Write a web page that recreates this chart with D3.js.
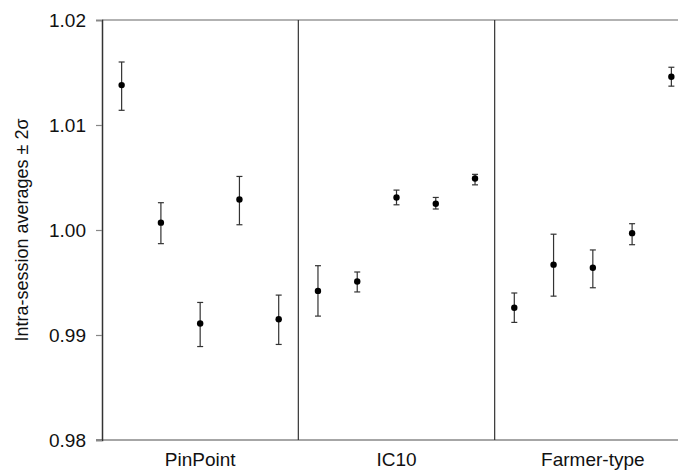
<!DOCTYPE html>
<html><head><meta charset="utf-8">
<script src="https://cdn.jsdelivr.net/npm/d3@7"></script>
<style>body{margin:0;background:#fff;} text{font-family:Arial,"Liberation Sans",sans-serif;}</style>
</head><body><svg id="c" width="678" height="470"></svg>
<script>
const groups = ["PinPoint", "IC10", "Farmer-type"];
const pointIndex = [1,2,3,4,5,6,7,8,9,10,11,12,13,14,15];
const means = [1.0138, 1.0007, 0.9911, 1.0029, 0.9915, 0.9942, 0.9951, 1.0031, 1.0025, 1.0049, 0.9926, 0.9967, 0.9964, 0.9997, 1.0146];
const upper = [1.0160, 1.0026, 0.9931, 1.0051, 0.9938, 0.9966, 0.9960, 1.0038, 1.0031, 1.0053, 0.9940, 0.9996, 0.9981, 1.0006, 1.0155];
const lower = [1.0114, 0.9987, 0.9889, 1.0005, 0.9891, 0.9918, 0.9941, 1.0024, 1.0020, 1.0043, 0.9912, 0.9937, 0.9945, 0.9986, 1.0137];
const yTicks = [0.98, 0.99, 1.00, 1.01, 1.02];
const yTickLabels = ["0.98", "0.99", "1.00", "1.01", "1.02"];
const yLabel = "Intra-session averages \u00b1 2\u03c3";

(function () {
const svg = d3.select("#c");
const mLeft = 102, mTop = 20, mBottom = 440, mRight = 691;
const x = d3.scaleLinear().domain([0.5, 15.5]).range([mLeft, mRight]);
const y = d3.scaleLinear().domain([0.98, 1.02]).range([mBottom, mTop]);

svg.append("line").attr("x1", mLeft).attr("x2", 678).attr("y1", y(1.02)).attr("y2", y(1.02))
  .attr("stroke", "#999").attr("stroke-width", 1.5);
svg.append("line").attr("x1", mLeft - 6).attr("x2", 678).attr("y1", y(0.98)).attr("y2", y(0.98))
  .attr("stroke", "#888").attr("stroke-width", 1.5);

const yAxis = d3.axisLeft(y).tickValues(yTicks).tickFormat((d, i) => yTickLabels[i]).tickSize(6).tickPadding(10);
const ga = svg.append("g").attr("transform", `translate(${mLeft},0)`).call(yAxis);
ga.select(".domain").attr("stroke", "#333").attr("stroke-width", 1.5);
ga.selectAll(".tick line").attr("stroke", "#888").attr("stroke-width", 1.2);
ga.selectAll(".tick text").attr("font-size", 19).attr("fill", "#111")
  .style("font-family", "Arial, 'Liberation Sans', sans-serif");

[5.5, 10.5].forEach(v => {
  svg.append("line").attr("x1", x(v)).attr("x2", x(v)).attr("y1", y(1.02)).attr("y2", y(0.98))
    .attr("stroke", "#333").attr("stroke-width", 1.2);
});

svg.selectAll("text.grp").data(groups).enter().append("text").attr("class", "grp")
  .attr("x", (d, i) => x(3 + 5 * i)).attr("y", 466).attr("text-anchor", "middle")
  .attr("font-size", 19).attr("fill", "#111").text(d => d);

svg.append("text").attr("transform", `translate(28,${(mTop + mBottom) / 2}) rotate(-90)`)
  .attr("text-anchor", "middle").attr("font-size", 18).attr("fill", "#111").text(yLabel);

const eb = svg.append("g");
pointIndex.forEach((p, i) => {
  const cx = x(p);
  eb.append("line").attr("x1", cx).attr("x2", cx).attr("y1", y(upper[i])).attr("y2", y(lower[i]))
    .attr("stroke", "#333").attr("stroke-width", 1.2);
  [upper[i], lower[i]].forEach(v => {
    eb.append("line").attr("x1", cx - 3).attr("x2", cx + 3).attr("y1", y(v)).attr("y2", y(v))
      .attr("stroke", "#333").attr("stroke-width", 1.2);
  });
});
svg.append("g").selectAll("circle").data(pointIndex).enter().append("circle")
  .attr("cx", d => x(d)).attr("cy", (d, i) => y(means[i])).attr("r", 3.2).attr("fill", "#000");
})();
</script></body></html>
